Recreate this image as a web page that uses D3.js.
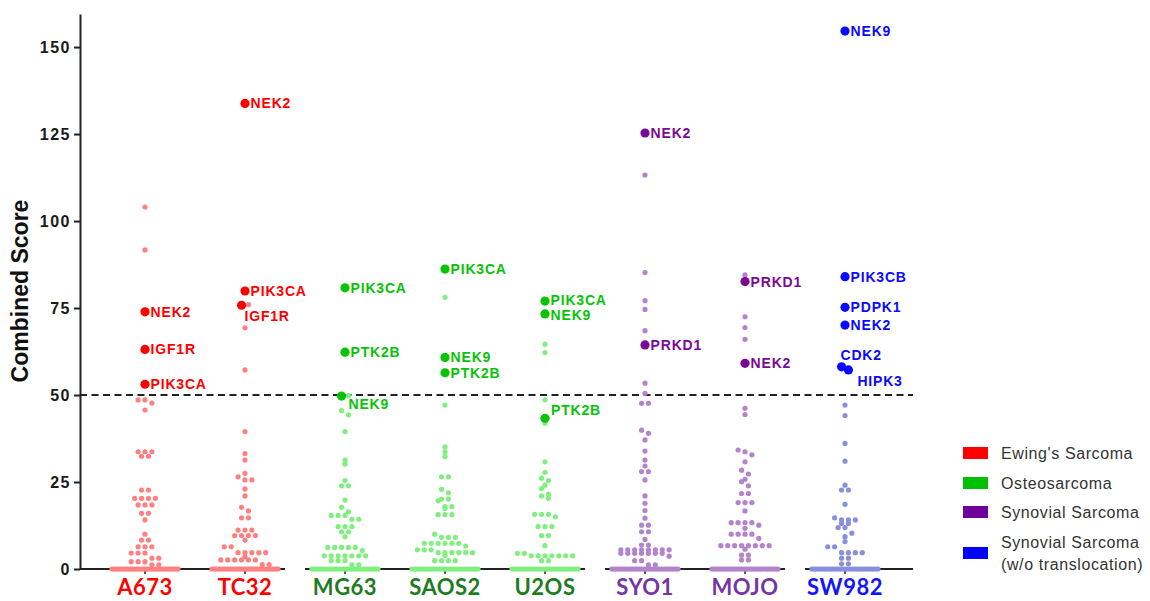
<!DOCTYPE html>
<html><head><meta charset="utf-8">
<script src="https://cdn.jsdelivr.net/npm/d3@7"></script>
<style>body{margin:0;background:#fff;} svg{display:block;}</style>
</head><body><svg id="chart" width="1150" height="601"></svg>
<script>
// ---------------- data ----------------
const categories = ["A673","TC32","MG63","SAOS2","U2OS","SYO1","MOJO","SW982"];
const categoryGroup = ["Ewing","Ewing","Osteo","Osteo","Osteo","Synovial","Synovial","SynovialNT"];
const groups = ["Ewing","Osteo","Synovial","SynovialNT"];
const groupNames = ["Ewing's Sarcoma","Osteosarcoma","Synovial Sarcoma","Synovial Sarcoma|(w/o translocation)"];
const yTicks = [0,25,50,75,100,125,150];
const yMax = 159.5;
const threshold = 50;

const a673Values = [104,91.7,48.6,48.6,47.7,45.7,33.7,33.7,33.7,32.4,32.4,22.7,22.7,20.3,20.3,20.3,20.3,18.4,18.4,18.4,16,16,14.1,10,8.3,8.3,6.4,6.4,6.4,4.6,4.6,4.6,3.1,3.1,2.1,2.1,2.1,1.2,1.2,
  0,0,0,0,0,0,0,0,0,0,0,0,0,0,0,0,0,0,0,0,0,0,0,0,0,0,0,0,0,0];
const tc32Values = [76,69.3,57.2,39.5,33.2,31.3,27.5,26.5,25.6,25.6,23,21,17.7,16.7,14.7,14.7,11.2,11.2,11.2,9.6,9.6,9.6,9.6,8.3,6.4,6.4,4.7,4.7,4.7,4.7,4.7,3.5,2.6,2.6,2.6,2.6,2.6,2.6,1.3,1.3,
  0,0,0,0,0,0,0,0,0,0,0,0,0,0,0,0,0,0,0,0,0,0,0,0,0,0,0,0,0,0];
const mg63Values = [49.8,45.5,44.3,39.5,31.3,30.2,25.4,23.9,23.9,19.8,17.7,16.4,15.4,15.4,15.4,14.3,14.3,12.2,12.2,12.2,10.7,10.7,9.3,6.2,6.2,6.2,6.2,6.2,5.3,3.8,3.8,3.8,3.8,3.8,3.8,3.8,2.4,2.4,2.4,1.2,1.2,
  0,0,0,0,0,0,0,0,0,0,0,0,0,0,0,0,0,0,0,0,0,0,0,0,0,0,0,0,0,0];
const saos2Values = [78.1,47.1,35.1,33.7,32.3,26.5,26.5,22.9,21.9,20.1,20.1,19.6,17.9,17.9,17.4,15.6,15.6,15.6,10,9.1,9.1,9.1,7.4,7.4,7.4,7.4,7.4,7.4,6.6,5.5,5.5,5.5,4.7,4.7,4.7,4.7,4.7,4.7,3.9,2.4,2.4,2.4,2.4,
  0,0,0,0,0,0,0,0,0,0,0,0,0,0,0,0,0,0,0,0,0,0,0,0,0,0,0,0,0,0];
const u2osValues = [64.6,62.2,48.6,41.9,30.8,27.8,26.1,25.4,24.1,23.1,21.5,21,20.3,15.7,15.7,15.7,15,12.2,12.2,12.2,9.6,9.6,6.7,4.5,4.5,3.8,3.8,3.8,3.8,3.8,3.8,3.8,2.4,2.4,
  0,0,0,0,0,0,0,0,0,0,0,0,0,0,0,0,0,0,0,0,0,0,0,0,0,0,0,0,0,0];
const syo1Values = [113.2,85.2,77.1,74.6,68.5,53.4,50.5,47.6,47.6,39.9,39,37.1,33.9,31.3,29.6,28,28,25.6,21,18.9,16.8,14.6,12.6,12.6,10.7,10.7,8.5,6.9,6.9,5.5,5.5,5.5,5.5,5.5,5.5,5.5,5.5,4.5,4.5,4.5,4.5,4.5,4.5,4.5,3.7,2.4,2.4,1.2,1.2,
  0,0,0,0,0,0,0,0,0,0,0,0,0,0,0,0,0,0,0,0,0,0,0,0,0,0,0,0,0,0];
const mojoValues = [84.5,72.5,69.4,66,46.2,44.4,34.2,33.7,32.8,30.8,28.4,27.3,25.8,25.1,23.9,21.7,21.7,19.1,19.1,19.1,16.7,13.3,13.3,13.3,13.3,12.6,11.7,10,10,10,10,8.8,6.7,6.7,6.7,6.7,6.7,6.7,6.7,6.7,5.7,4,4,2.6,2.6,
  0,0,0,0,0,0,0,0,0,0,0,0,0,0,0,0,0,0,0,0,0,0,0,0,0,0,0,0,0,0];
const sw982Values = [47.1,44.1,36.1,31,24.1,22.7,22.7,18.6,14.7,14.1,14.1,14.1,13.1,13.1,11.9,11.9,10.3,9.3,7.9,6.4,6.4,4.7,4.7,4.7,4.7,3.1,3.1,1.5,1.5,
  0,0,0,0,0,0,0,0,0,0,0,0,0,0,0,0,0,0,0,0,0,0,0,0,0,0,0,0,0,0];
const categoryValues = [a673Values,tc32Values,mg63Values,saos2Values,u2osValues,syo1Values,mojoValues,sw982Values];

const highlightCategory = ["A673","A673","A673","TC32","TC32","TC32","MG63","MG63","MG63","SAOS2","SAOS2","SAOS2","U2OS","U2OS","U2OS","SYO1","SYO1","MOJO","MOJO","SW982","SW982","SW982","SW982","SW982","SW982"];
const highlightGene     = ["NEK2","IGF1R","PIK3CA","NEK2","PIK3CA","IGF1R","PIK3CA","PTK2B","NEK9","PIK3CA","NEK9","PTK2B","PIK3CA","NEK9","PTK2B","NEK2","PRKD1","PRKD1","NEK2","NEK9","PIK3CB","PDPK1","NEK2","CDK2","HIPK3"];
const highlightValue    = [73.9,63.1,53.1,133.8,79.9,75.8,80.8,62.3,49.7,86.2,60.8,56.4,77,73.3,43.3,125.3,64.4,82.6,59.1,154.6,84,75.2,70.1,58.1,57.2];

// ---------------- styles ----------------
const strongColor = {Ewing:"#ff0000", Osteo:"#08c408", Synovial:"#7a0a96", SynovialNT:"#0a0aff"};
const lightColor  = {Ewing:"#ff8080", Osteo:"#80ef80", Synovial:"#b383cc", SynovialNT:"#8a8fdc"};
const catColor    = {Ewing:"#ff0000", Osteo:"#1e7c1e", Synovial:"#7535a5", SynovialNT:"#1414ff"};
const legendColor = {Ewing:"#ff0000", Osteo:"#00c000", Synovial:"#70009c", SynovialNT:"#0000ff"};
// special label placement (dx, dy) relative to the dot
const labelShift = {"TC32|IGF1R":[3,11], "MG63|NEK9":[7,8], "U2OS|PTK2B":[6,-8], "U2OS|PIK3CA":[5.6,-1.5], "U2OS|NEK9":[5.6,1.2], "SW982|CDK2":[-1,-12], "SW982|HIPK3":[9,11]};

const svg = d3.select("#chart");
const y = d3.scaleLinear().domain([0, yMax]).range([569, 14]);
const x = d3.scaleBand().domain(categories).range([95, 895]);
const cx = c => x(c) + x.bandwidth() / 2;
const axisX = 80, axisRight = cx(categories[categories.length - 1]) + 68;

// ---------------- swarm layout ----------------
const rowH = 6.5, spacing = 6.9, maxHalf = 33, rSmall = 2.6, rBig = 4.6;
let points = [];
categories.forEach((c, i) => {
  const g = categoryGroup[i];
  const pts = [];
  highlightCategory.forEach((hc, k) => { if (hc === c) pts.push({cat:c, g, v:highlightValue[k], big:true, gene:highlightGene[k]}); });
  categoryValues[i].forEach(v => pts.push({cat:c, g, v, big:false}));
  const rows = d3.group(pts, p => Math.round((y(0) - y(p.v)) / rowH));
  rows.forEach(arr => {
    const n = arr.length;
    const s = n > 1 ? Math.min(spacing, 2 * maxHalf / (n - 1)) : 0;
    arr.forEach((p, k) => { p.x = cx(c) + (k - (n - 1) / 2) * s; p.y = y(p.v); });
  });
  points = points.concat(pts);
});

// ---------------- axes ----------------
const yAxis = d3.axisLeft(y).tickValues(yTicks).tickSize(6).tickSizeOuter(0).tickPadding(3);
const yg = svg.append("g").attr("transform", `translate(${axisX},0)`).call(yAxis);
yg.select(".domain").attr("stroke", "#222").attr("stroke-width", 2);
yg.selectAll(".tick line").attr("stroke", "#222").attr("stroke-width", 2);
yg.selectAll(".tick text").attr("fill", "#1a1a1a")
  .style("font-family", "'Liberation Sans', Arial, sans-serif").style("font-weight", "bold")
  .style("font-size", "16px").style("letter-spacing", "1.5px");

svg.append("text")
  .attr("transform", `translate(28,291) rotate(-90)`)
  .attr("text-anchor", "middle")
  .style("font-family", "'Liberation Sans', Arial, sans-serif").style("font-weight", "bold")
  .style("font-size", "23px").attr("fill", "#111")
  .text("Combined Score");

// broken x axis, one segment per group
groups.forEach(g => {
  const idx = categories.map((c, i) => i).filter(i => categoryGroup[i] === g);
  const first = idx[0], last = idx[idx.length - 1];
  const x0 = first === 0 ? axisX : (cx(categories[first - 1]) + cx(categories[first])) / 2 + 10;
  const x1 = last === categories.length - 1 ? axisRight : (cx(categories[last]) + cx(categories[last + 1])) / 2 - 10;
  svg.append("line").attr("x1", x0).attr("x2", x1).attr("y1", y(0)).attr("y2", y(0))
    .attr("stroke", "#222").attr("stroke-width", 2);
});
svg.selectAll(".xtick").data(categories).enter().append("line")
  .attr("x1", c => cx(c)).attr("x2", c => cx(c)).attr("y1", y(0)).attr("y2", y(0) + 5)
  .attr("stroke", "#222").attr("stroke-width", 1.5);
svg.selectAll(".xlab").data(categories).enter().append("text")
  .attr("x", c => cx(c)).attr("y", 595).attr("text-anchor", "middle")
  .style("font-family", "Lato, 'Open Sans', sans-serif").style("font-weight", "bold").style("font-size", "22px")
  .style("letter-spacing", "0.5px")
  .attr("fill", (c, i) => catColor[categoryGroup[i]])
  .text(c => c);

// threshold line
svg.append("line").attr("x1", axisX).attr("x2", axisRight).attr("y1", y(threshold)).attr("y2", y(threshold))
  .attr("stroke", "#222").attr("stroke-width", 2).attr("stroke-dasharray", "7,4.5");

// ---------------- dots ----------------
svg.append("g").selectAll("circle").data(points.filter(p => !p.big)).enter().append("circle")
  .attr("cx", p => p.x).attr("cy", p => p.y).attr("r", rSmall).attr("fill", p => lightColor[p.g]);
const bigPts = points.filter(p => p.big);
svg.append("g").selectAll("circle").data(bigPts).enter().append("circle")
  .attr("cx", p => p.x).attr("cy", p => p.y).attr("r", rBig).attr("fill", p => strongColor[p.g]);
svg.append("g").selectAll("text").data(bigPts).enter().append("text")
  .attr("x", p => p.x + (labelShift[p.cat + "|" + p.gene] || [rBig + 1, 0])[0])
  .attr("y", p => p.y + (labelShift[p.cat + "|" + p.gene] || [rBig + 1, 0])[1])
  .attr("dominant-baseline", "central")
  .style("font-family", "'Liberation Sans', Arial, sans-serif").style("font-weight", "bold")
  .style("font-size", "14px").style("letter-spacing", "0.8px")
  .attr("fill", p => strongColor[p.g])
  .text(p => p.gene);

// ---------------- legend ----------------
const lgRows = [453, 483, 512, 553];
groups.forEach((g, i) => {
  svg.append("rect").attr("x", 963).attr("y", lgRows[i] - 6).attr("width", 25).attr("height", 12)
    .attr("fill", legendColor[g]);
  const lines = groupNames[i].split("|");
  const t = svg.append("text").attr("x", 1001)
    .style("font-family", "'Liberation Sans', Arial, sans-serif").style("font-size", "16px")
    .style("letter-spacing", "0.6px").attr("fill", "#333");
  lines.forEach((ln, k) => {
    t.append("tspan").attr("x", 1001)
      .attr("y", lgRows[i] + 5.5 + (k - (lines.length - 1) / 2) * 22)
      .text(ln);
  });
});
</script>
</body></html>
